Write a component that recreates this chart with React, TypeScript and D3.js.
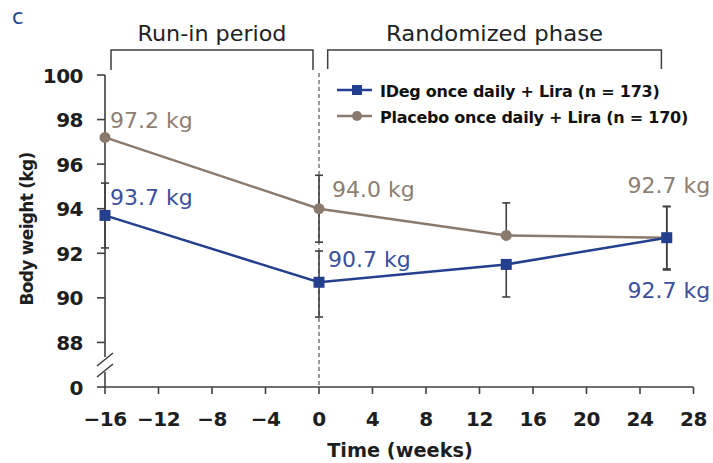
import React from "react";
import * as d3 from "d3";

const weeks = [-16, 0, 14, 26];
const ideg = [93.7, 90.7, 91.5, 92.7];
const placebo = [97.2, 94.0, 92.8, 92.7];
const idegErrUp = [1.45, 1.4, 0, 1.4];
const idegErrDown = [1.46, 1.56, 1.46, 1.45];
const placeboErrUp = [0, 1.5, 1.46, 1.4];
const placeboErrDown = [0, 1.5, 0, 1.4];
const xTicks = [-16, -12, -8, -4, 0, 4, 8, 12, 16, 20, 24, 28];
const yTicks = [86, 88, 90, 92, 94, 96, 98, 100];
const yTickLabels = ["0", "88", "90", "92", "94", "96", "98", "100"];
const idegLabels = ["93.7 kg", "90.7 kg", "", "92.7 kg"];
const placeboLabels = ["97.2 kg", "94.0 kg", "", "92.7 kg"];
const legendLabels = ["IDeg once daily + Lira (n = 173)", "Placebo once daily + Lira (n = 170)"];
const phaseLabels = ["Run-in period", "Randomized phase"];

const BLUE = "#243f8e";
const BLUE_TXT = "#3b509c";
const TAUPE = "#8a7a6e";
const TAUPE_TXT = "#8d7e72";
const AX = "#3f3f3f";
const FONT = "'DejaVu Sans', Verdana, sans-serif";

export default function App() {
  const x = d3.scaleLinear().domain([-16, 28]).range([105, 693.5]);
  const y = d3.scaleLinear().domain([86, 100]).range([387, 75]);
  const line = d3
    .line<number>()
    .x((_, i) => x(weeks[i]))
    .y((d) => y(d));

  const errBars = (vals: number[], up: number[], down: number[], key: string) =>
    vals.map((v, i) => {
      const top = v + up[i];
      const bot = v - down[i];
      const cx = x(weeks[i]);
      return (
        <g key={key + i} stroke={AX} strokeWidth={1.6}>
          {top !== bot && <line x1={cx} x2={cx} y1={y(top)} y2={y(bot)} />}
          {up[i] > 0 && <line x1={cx - 4} x2={cx + 4} y1={y(top)} y2={y(top)} />}
          {down[i] > 0 && <line x1={cx - 4} x2={cx + 4} y1={y(bot)} y2={y(bot)} />}
        </g>
      );
    });

  // label offsets in px relative to the data point
  const idegLabelPos = [
    { dx: 5, dy: -10, anchor: "start" },
    { dx: 9, dy: -15, anchor: "start" },
    null,
    { dx: 43.5, dy: 60, anchor: "end" },
  ];
  const placeboLabelPos = [
    { dx: 5, dy: -9, anchor: "start" },
    { dx: 13, dy: -12, anchor: "start" },
    null,
    { dx: 43.5, dy: -45, anchor: "end" },
  ];

  const b1 = [x(-15.55), x(-0.45)];
  const b2 = [x(0.65), x(25.6)];

  return (
    <svg width={713} height={463} style={{ display: "block", position: "absolute", left: 0, top: 0 }} fontFamily={FONT}>
      <rect width={713} height={463} fill="#fff" />
      <text x={12} y={24} fontSize={21} fill="#1d4794">c</text>

      {/* brackets */}
      <g stroke={AX} strokeWidth={1.5} fill="none">
        <path d={`M${b1[0]},70 V50 H${b1[1]} V70`} />
        <path d={`M${b2[0]},69 V50 H${b2[1]} V69`} />
      </g>
      <text x={(b1[0] + b1[1]) / 2} y={41} textAnchor="middle" fontSize={20.5} fill="#222" textLength={149} lengthAdjust="spacingAndGlyphs">{phaseLabels[0]}</text>
      <text x={(b2[0] + b2[1]) / 2} y={41} textAnchor="middle" fontSize={20.5} fill="#222" textLength={217} lengthAdjust="spacingAndGlyphs">{phaseLabels[1]}</text>

      {/* dashed vertical at 0 */}
      <line x1={x(0)} x2={x(0)} y1={73} y2={387} stroke="#555" strokeWidth={1.2} strokeDasharray="4,3" />

      {/* y axis with break */}
      <g stroke={AX} strokeWidth={1.6} fill="none">
        <line x1={105} x2={105} y1={y(100)} y2={357} />
        <line x1={105} x2={105} y1={372} y2={387} />
        <line x1={97} x2={113} y1={366} y2={353} />
        <line x1={97} x2={113} y1={377} y2={364} />
        {yTicks.map((t) => (
          <line key={t} x1={97} x2={105} y1={y(t)} y2={y(t)} />
        ))}
      </g>
      {yTicks.map((t, i) => (
        <text key={t} x={83} y={y(t) + 7.5} textAnchor="end" fontSize={20} fontWeight="bold" fill="#1e1e1e" letterSpacing={-0.5}>
          {yTickLabels[i]}
        </text>
      ))}
      <text transform={`translate(33,229) rotate(-90)`} textAnchor="middle" fontSize={17} fontWeight="bold" fill="#1e1e1e" letterSpacing={-0.7}>
        Body weight (kg)
      </text>

      {/* x axis */}
      <g stroke={AX} strokeWidth={1.6}>
        <line x1={105} x2={x(28)} y1={387} y2={387} />
        {xTicks.map((t) => (
          <line key={t} x1={x(t)} x2={x(t)} y1={387} y2={394} />
        ))}
      </g>
      {xTicks.map((t) => (
        <text key={t} x={x(t)} y={426} textAnchor="middle" fontSize={20} fontWeight="bold" fill="#1e1e1e" letterSpacing={-0.5}>
          {t < 0 ? "\u2212" + Math.abs(t) : String(t)}
        </text>
      ))}
      <text x={400} y={457} textAnchor="middle" fontSize={19.3} fontWeight="bold" fill="#1e1e1e">Time (weeks)</text>

      {/* error bars */}
      {errBars(placebo, placeboErrUp, placeboErrDown, "p")}
      {errBars(ideg, idegErrUp, idegErrDown, "i")}

      {/* lines */}
      <path d={line(placebo) || ""} fill="none" stroke={TAUPE} strokeWidth={2.5} />
      <path d={line(ideg) || ""} fill="none" stroke={BLUE} strokeWidth={2.5} />
      {placebo.map((v, i) => (
        <circle key={"pc" + i} cx={x(weeks[i])} cy={y(v)} r={5.5} fill={TAUPE} />
      ))}
      {ideg.map((v, i) => (
        <rect key={"ir" + i} x={x(weeks[i]) - 5.5} y={y(v) - 5.5} width={11} height={11} fill={BLUE} />
      ))}

      {/* value labels */}
      {placeboLabels.map((l, i) => {
        const p = placeboLabelPos[i];
        if (!p || !l) return null;
        return (
          <text key={"pl" + i} x={x(weeks[i]) + p.dx} y={y(placebo[i]) + p.dy} textAnchor={p.anchor as any} fontSize={22} fill={TAUPE_TXT}>{l}</text>
        );
      })}
      {idegLabels.map((l, i) => {
        const p = idegLabelPos[i];
        if (!p || !l) return null;
        return (
          <text key={"il" + i} x={x(weeks[i]) + p.dx} y={y(ideg[i]) + p.dy} textAnchor={p.anchor as any} fontSize={22} fill={BLUE_TXT}>{l}</text>
        );
      })}

      {/* legend */}
      <g>
        <line x1={337} x2={372} y1={90} y2={90} stroke={BLUE} strokeWidth={2.5} />
        <rect x={352} y={85} width={10} height={10} fill={BLUE} />
        <text x={380} y={96.5} fontSize={16} fontWeight="bold" fill="#111" letterSpacing={-0.25}>{legendLabels[0]}</text>
        <line x1={337} x2={372} y1={116} y2={116} stroke={TAUPE} strokeWidth={2.5} />
        <circle cx={357} cy={116} r={5} fill={TAUPE} />
        <text x={380} y={122.5} fontSize={16} fontWeight="bold" fill="#111" letterSpacing={-0.25}>{legendLabels[1]}</text>
      </g>
    </svg>
  );
}
